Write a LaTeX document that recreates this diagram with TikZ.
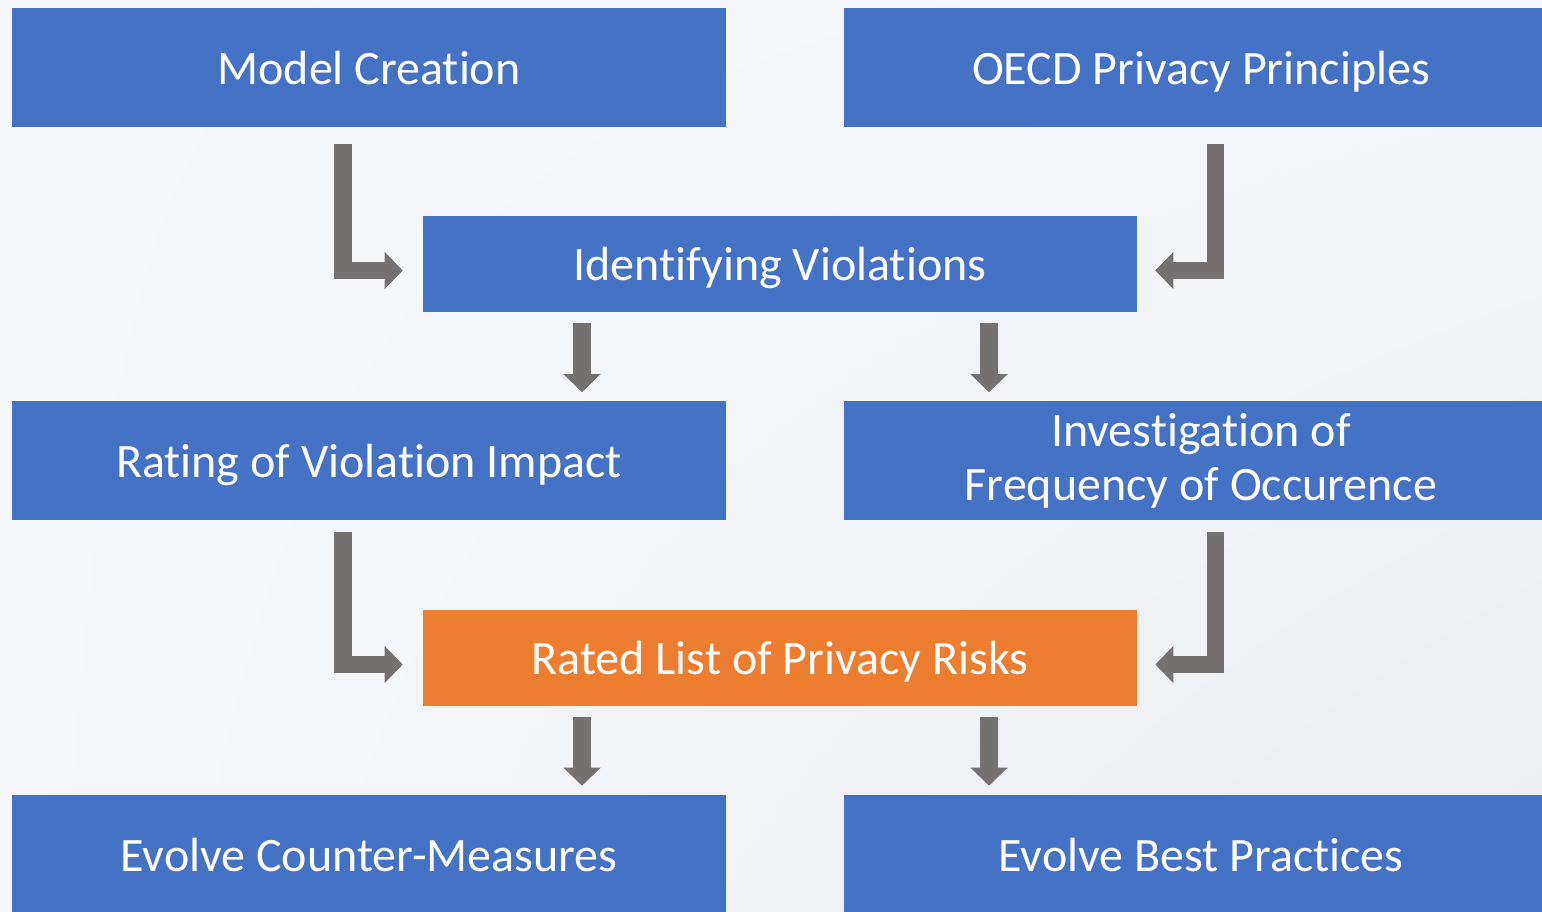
\documentclass[tikz,border=0pt]{standalone}
\usepackage{fontspec}
\setmainfont{Carlito}[Ligatures=NoCommon]
\usetikzlibrary{arrows.meta,calc,shadings}

\definecolor{boxblue}{HTML}{4472C4}
\definecolor{boxorange}{HTML}{ED7D31}
\definecolor{arrowgray}{HTML}{767171}
\definecolor{bgtop}{HTML}{F6F8FC}
\definecolor{bgbottom}{HTML}{EBECF0}

\begin{document}
\begin{tikzpicture}[x=0.75pt, y=-0.75pt,
  every node/.style={font=\fontsize{36}{40}\selectfont, text=white},
  stage/.style={fill=boxblue, minimum width=535.5pt, minimum height=89.25pt, inner sep=0pt, align=center},
  oneline/.style={text height=29pt, text depth=4pt},
  result/.style={stage, oneline, minimum height=72pt},
  flow/.style={draw=arrowgray, line width=13pt, -{Triangle[length=13.5pt,width=27pt]}}]
 \clip (0,0) rectangle (1542,912);
 \shade[upper left=bgtop, upper right=bgtop!80!bgbottom, lower left=bgtop, lower right=bgbottom] (0,0) rectangle (1542,912);

 % the boxes
 \node[stage, oneline] (model) at (369,67.5) {Model Creation};
 \node[stage, oneline] (oecd) at (1201,67.5) {OECD Privacy Principles};
 \node[result] (ident) at (780,264) {Identifying Violations};
 \node[stage, oneline] (rating) at (369,461) {Rating of Violation Impact};
 \node[stage] (invest) at (1201,461) {Investigation of\\Frequency of Occurence};
 \node[result, fill=boxorange] (risks) at (780,658) {Rated List of Privacy Risks};
 \node[stage, oneline] (counter) at (369,854.5) {Evolve Counter-Measures};
 \node[stage, oneline] (best) at (1201,854.5) {Evolve Best Practices};

 % arrows between them
 \draw[flow] ($(model.south)+(-26,17)$) |- ($(ident.west)+(-20,6.5)$);
 \draw[flow] ($(oecd.south)+(14.5,17)$) |- ($(ident.east)+(18,6.5)$);
 \draw[flow] ($(ident.south)+(-198,11)$) -- ($(rating.north)+(213,-9)$);
 \draw[flow] ($(ident.south)+(209,11)$) -- ($(invest.north)+(-212,-9)$);
 \draw[flow] ($(rating.south)+(-26,11)$) |- ($(risks.west)+(-20,6.5)$);
 \draw[flow] ($(invest.south)+(14.5,11)$) |- ($(risks.east)+(18,6.5)$);
 \draw[flow] ($(risks.south)+(-198,11)$) -- ($(counter.north)+(213,-9)$);
 \draw[flow] ($(risks.south)+(209,11)$) -- ($(best.north)+(-212,-9)$);
\end{tikzpicture}
\end{document}
